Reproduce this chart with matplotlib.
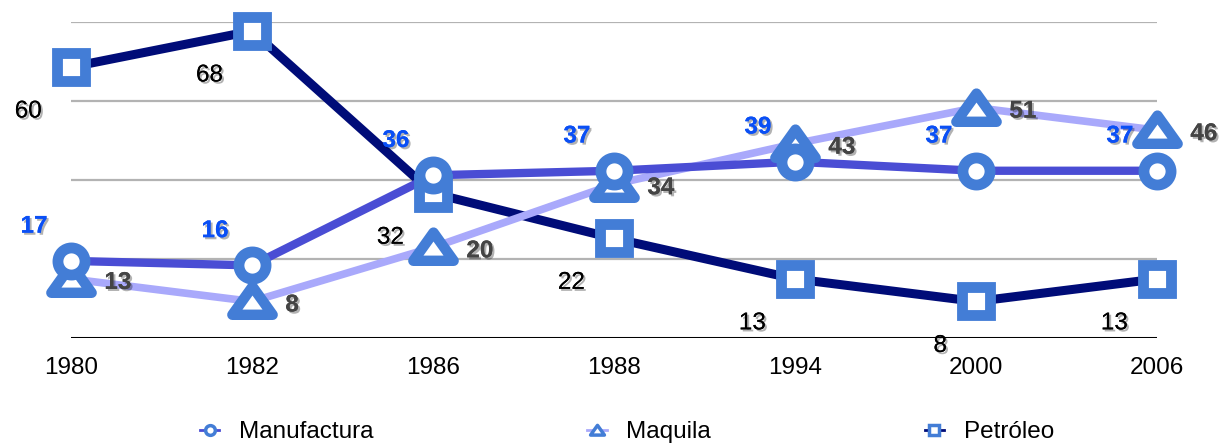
#!/usr/bin/env python

import matplotlib.pyplot as plt
import matplotlib.patheffects as pe
from matplotlib.lines import Line2D
from matplotlib.path import Path

plt.rcParams['font.family'] = ['Liberation Sans', 'DejaVu Sans']

# Data
years = ['1980', '1982', '1986', '1988', '1994', '2000', '2006']
manufactura = [17, 16, 36, 37, 39, 37, 37]
maquila = [13, 8, 20, 34, 43, 51, 46]
petroleo = [60, 68, 32, 22, 13, 8, 13]

marker_blue = '#437dd6'
c_manu = '#4a4dd4'
c_maq = '#a9a9fb'
c_pet = '#000c78'

# wide triangle marker
tri = Path([(-1, -0.66), (1, -0.66), (0, 0.74), (-1, -0.66)],
           [Path.MOVETO, Path.LINETO, Path.LINETO, Path.CLOSEPOLY])

fig = plt.figure(figsize=(12.22, 4.43), dpi=100)
ax = fig.add_axes([0.0581, 0.2381, 0.8887, 0.7122])

x = list(range(len(years)))

# gridlines
for g in [17.5, 35, 52.5, 70]:
    ax.axhline(g, color='#b3b3b3', lw=1.6, zorder=0)
ax.axhline(0, color='black', lw=2.2, zorder=1)

# lines
ax.plot(x, petroleo, color=c_pet, lw=6.5, zorder=2)
ax.plot(x, maquila, color=c_maq, lw=5.5, zorder=3)
ax.plot(x, manufactura, color=c_manu, lw=6, zorder=4)

# markers
ax.plot(x, petroleo, ls='none', marker='s', ms=19.5, mew=7.8, mfc='white',
        mec=marker_blue, zorder=5, clip_on=False)
ax.plot(x, maquila, ls='none', marker=tri, ms=29, mew=7.5, mfc='white',
        mec=marker_blue, zorder=6, clip_on=False)
ax.plot(x, manufactura, ls='none', marker='o', ms=19.5, mew=7.8, mfc='white',
        mec=marker_blue, zorder=7, clip_on=False)

shadow = [pe.withSimplePatchShadow(offset=(1.5, -1.5), shadow_rgbFace='black', alpha=0.3),
          pe.Normal()]

# data labels
for xi, v in zip(x, manufactura):
    ax.annotate(str(v), (xi, v), xytext=(-17, 25), textcoords='offset points',
                ha='right', va='center', fontsize=17.5, fontweight='bold',
                color='#0a4ff5', path_effects=shadow, annotation_clip=False, zorder=10)
for xi, v in zip(x, maquila):
    ax.annotate(str(v), (xi, v), xytext=(24, -2.5), textcoords='offset points',
                ha='left', va='center', fontsize=17.5, fontweight='bold',
                color='#444444', path_effects=shadow, annotation_clip=False, zorder=10)
for xi, v in zip(x, petroleo):
    ax.annotate(str(v), (xi, v), xytext=(-21, -32), textcoords='offset points',
                ha='right', va='center', fontsize=17.5,
                color='black', path_effects=shadow, annotation_clip=False, zorder=10)

ax.set_xlim(0, 6)
ax.set_ylim(0, 70)
ax.set_xticks(x)
ax.set_xticklabels(years, fontsize=17.5)
ax.tick_params(axis='x', length=0, pad=14)
ax.set_yticks([])
for s in ax.spines.values():
    s.set_visible(False)

# legend
handles = [
    Line2D([], [], color=c_manu, lw=2, marker='o', ms=7, mew=2.5, mfc='white', mec=marker_blue),
    Line2D([], [], color=c_maq, lw=2, marker=tri, ms=10, mew=2.5, mfc='white', mec=marker_blue),
    Line2D([], [], color=c_pet, lw=2, marker='s', ms=7, mew=2.5, mfc='white', mec=marker_blue),
]
fig.legend(handles, ['Manufactura', 'Maquila', 'Petróleo'], loc='lower center',
           bbox_to_anchor=(0.513, -0.05), ncol=3, frameon=False, fontsize=17.5,
           handlelength=0.8, handletextpad=0.8, columnspacing=8.8)

fig.savefig('out.png', dpi=100)
